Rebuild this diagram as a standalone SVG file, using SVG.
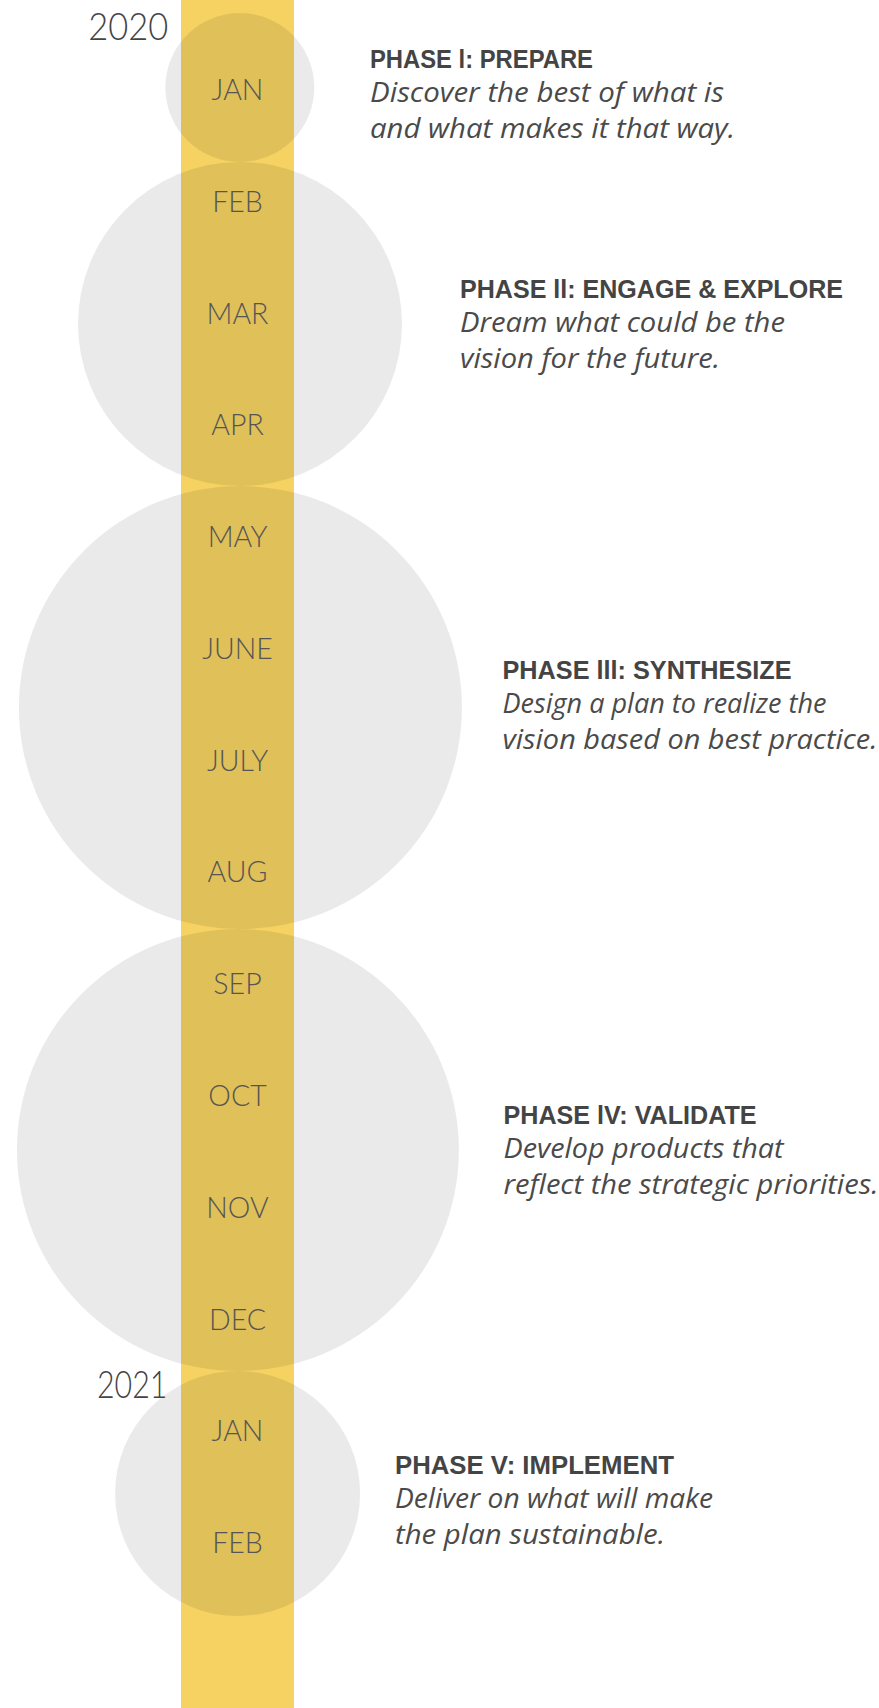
<svg xmlns="http://www.w3.org/2000/svg" width="879" height="1708" viewBox="0 0 879 1708">
  <style>
    .bar { fill: #F5D262; }
    .phase-circle { fill: #000000; fill-opacity: 0.082; }
    .month { font-family: Lato, "Liberation Sans", sans-serif; font-weight: 300; font-size: 28.5px; fill: #555555; text-anchor: middle; }
    .year { font-family: Lato, "Liberation Sans", sans-serif; font-weight: 300; font-size: 37px; fill: #444444; }
    .title { font-family: "Liberation Sans", Arial, sans-serif; font-weight: 700; font-size: 26px; fill: #444444; }
    .desc { font-family: "Open Sans", "Liberation Sans", sans-serif; font-style: italic; font-size: 27px; fill: #4A4A4A; }
  </style>
  <rect width="879" height="1708" fill="#FFFFFF"/>
  <g id="timeline-bar">
    <rect class="bar" x="181" y="0" width="113" height="1708"/>
  </g>
  <g id="phase-circles">
    <circle id="circle-phase-1" class="phase-circle" cx="239.8" cy="87.5" r="74.5"/>
    <circle id="circle-phase-2" class="phase-circle" cx="240" cy="324" r="162"/>
    <circle id="circle-phase-3" class="phase-circle" cx="240.4" cy="707.5" r="221.5"/>
    <circle id="circle-phase-4" class="phase-circle" cx="237.9" cy="1150" r="221"/>
    <circle id="circle-phase-5" class="phase-circle" cx="237.6" cy="1493.5" r="122.5"/>
  </g>
  <g id="years">
    <text class="year" x="88.3" y="40" textLength="80" lengthAdjust="spacingAndGlyphs">2020</text>
    <text class="year" x="97" y="1397.5" textLength="70.5" lengthAdjust="spacingAndGlyphs">2021</text>
  </g>
  <g id="months">
    <text class="month" x="237.5" y="100">JAN</text>
    <text class="month" x="237.5" y="211.8">FEB</text>
    <text class="month" x="237.5" y="323.5">MAR</text>
    <text class="month" x="237.5" y="435.3">APR</text>
    <text class="month" x="237.5" y="547.1">MAY</text>
    <text class="month" x="237.5" y="658.9">JUNE</text>
    <text class="month" x="237.5" y="770.6">JULY</text>
    <text class="month" x="237.5" y="882.4">AUG</text>
    <text class="month" x="237.5" y="994.2">SEP</text>
    <text class="month" x="237.5" y="1106">OCT</text>
    <text class="month" x="237.5" y="1217.7">NOV</text>
    <text class="month" x="237.5" y="1329.5">DEC</text>
    <text class="month" x="237.5" y="1441.3">JAN</text>
    <text class="month" x="237.5" y="1553">FEB</text>
  </g>
  <g id="phase-1">
    <text class="title" x="370" y="67.5" textLength="223" lengthAdjust="spacingAndGlyphs">PHASE l: PREPARE</text>
    <text class="desc" x="370" y="101.5" textLength="354" lengthAdjust="spacingAndGlyphs">Discover the best of what is</text>
    <text class="desc" x="370" y="137.5" textLength="365" lengthAdjust="spacingAndGlyphs">and what makes it that way.</text>
  </g>
  <g id="phase-2">
    <text class="title" x="460" y="298" textLength="383" lengthAdjust="spacingAndGlyphs">PHASE ll: ENGAGE &amp; EXPLORE</text>
    <text class="desc" x="460" y="332" textLength="325" lengthAdjust="spacingAndGlyphs">Dream what could be the</text>
    <text class="desc" x="460" y="368" textLength="260" lengthAdjust="spacingAndGlyphs">vision for the future.</text>
  </g>
  <g id="phase-3">
    <text class="title" x="502.5" y="678.5" textLength="289" lengthAdjust="spacingAndGlyphs">PHASE lll: SYNTHESIZE</text>
    <text class="desc" x="502.5" y="712.5" textLength="324" lengthAdjust="spacingAndGlyphs">Design a plan to realize the</text>
    <text class="desc" x="502.5" y="748.5" textLength="375" lengthAdjust="spacingAndGlyphs">vision based on best practice.</text>
  </g>
  <g id="phase-4">
    <text class="title" x="503.5" y="1123.5" textLength="253" lengthAdjust="spacingAndGlyphs">PHASE lV: VALIDATE</text>
    <text class="desc" x="503.5" y="1157.5" textLength="280" lengthAdjust="spacingAndGlyphs">Develop products that</text>
    <text class="desc" x="503.5" y="1193.5" textLength="375" lengthAdjust="spacingAndGlyphs">reflect the strategic priorities.</text>
  </g>
  <g id="phase-5">
    <text class="title" x="395" y="1473.5" textLength="279" lengthAdjust="spacingAndGlyphs">PHASE V: IMPLEMENT</text>
    <text class="desc" x="395" y="1507.5" textLength="318" lengthAdjust="spacingAndGlyphs">Deliver on what will make</text>
    <text class="desc" x="395" y="1543.5" textLength="270" lengthAdjust="spacingAndGlyphs">the plan sustainable.</text>
  </g>
</svg>
